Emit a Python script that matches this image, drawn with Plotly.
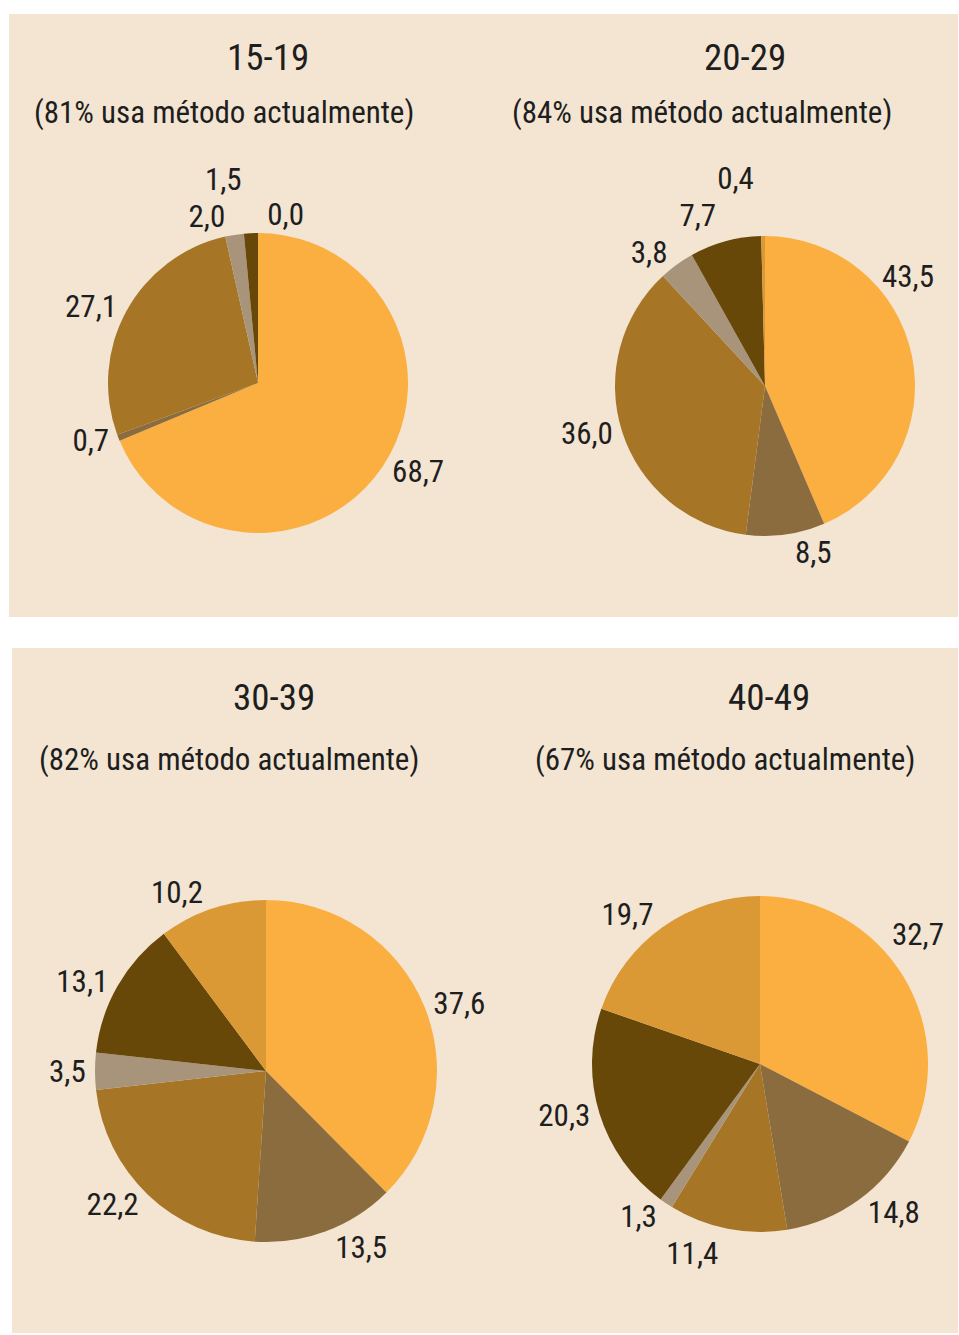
import plotly.graph_objects as go

W, H = 959, 1335

categorias = ["Método 1", "Método 2", "Método 3", "Método 4", "Método 5", "Método 6"]
colores = ["#FBAF41", "#8B6C3F", "#A67526", "#A8947A", "#674808", "#DB9935"]

grupos = ["15-19", "20-29", "30-39", "40-49"]
subtitulos = [
    "(81% usa método actualmente)",
    "(84% usa método actualmente)",
    "(82% usa método actualmente)",
    "(67% usa método actualmente)",
]
valores_15_19 = [68.7, 0.7, 27.1, 2.0, 1.5, 0.0]
valores_20_29 = [43.5, 8.5, 36.0, 3.8, 7.7, 0.4]
valores_30_39 = [37.6, 13.5, 22.2, 3.5, 13.1, 10.2]
valores_40_49 = [32.7, 14.8, 11.4, 1.3, 20.3, 19.7]
valores = [valores_15_19, valores_20_29, valores_30_39, valores_40_49]

# layout (pixels): pie centre and radius, title & subtitle positions
pie_geom = [(258, 383, 150), (765, 386, 150), (266, 1071, 171), (760, 1064, 168)]
title_pos = [(268, 57), (745, 57), (274, 697), (769, 697)]
sub_pos = [(224, 112), (702, 112), (229, 760), (725, 760)]
# labels that would fall off the right edge are placed as in the original: (pie, slice) -> (x, y)
label_manual = {(1, 0): (908, 276), (3, 0): (918, 934)}

FONT = "Roboto Condensed, Liberation Sans Narrow, sans-serif"
TXT = "#1e1e1e"


def fmt(v):
    return f"{v:.1f}".replace(".", ",")


fig = go.Figure()
annotations = []
for p, (vals, (cx, cy, r)) in enumerate(zip(valores, pie_geom)):
    templates = []
    for s, v in enumerate(vals):
        if (p, s) in label_manual:
            templates.append("")
            lx, ly = label_manual[(p, s)]
            annotations.append(dict(text=fmt(v), x=lx / W, y=1 - ly / H, xref="paper", yref="paper",
                                    showarrow=False, xanchor="center", yanchor="middle",
                                    font=dict(family=FONT, size=31, color=TXT)))
        else:
            templates.append("%{value:.1f}")
    fig.add_trace(go.Pie(
        labels=categorias,
        values=vals,
        sort=False,
        direction="clockwise",
        rotation=0,
        marker=dict(colors=colores, line=dict(width=0)),
        textposition="outside",
        texttemplate=templates,
        textfont=dict(family=FONT, size=31, color=TXT),
        showlegend=False,
        domain=dict(x=[(cx - r) / W, (cx + r) / W], y=[1 - (cy + r) / H, 1 - (cy - r) / H]),
    ))

shapes = [
    dict(type="rect", xref="paper", yref="paper", x0=9 / W, x1=958 / W, y0=1 - 617 / H, y1=1 - 14 / H,
         fillcolor="#F3E5D2", line=dict(width=0), layer="below"),
    dict(type="rect", xref="paper", yref="paper", x0=12 / W, x1=958 / W, y0=1 - 1333 / H, y1=1 - 648 / H,
         fillcolor="#F3E5D2", line=dict(width=0), layer="below"),
]

for g, s, (tx, ty), (sx, sy) in zip(grupos, subtitulos, title_pos, sub_pos):
    annotations.append(dict(text=g, x=tx / W, y=1 - ty / H, xref="paper", yref="paper",
                            showarrow=False, xanchor="center", yanchor="middle",
                            font=dict(family=FONT, size=37, color=TXT)))
    annotations.append(dict(text=s, x=sx / W, y=1 - sy / H, xref="paper", yref="paper",
                            showarrow=False, xanchor="center", yanchor="middle",
                            font=dict(family=FONT, size=31, color=TXT)))

fig.update_layout(
    width=W, height=H,
    autosize=False,
    margin=dict(l=0, r=0, t=0, b=0),
    paper_bgcolor="white",
    plot_bgcolor="white",
    separators=", ",
    shapes=shapes,
    annotations=annotations,
)

fig.write_html(
    "out.html",
    config={"displayModeBar": False, "responsive": False},
    post_script=(
        "document.documentElement.style.overflow='hidden';"
        "document.body.style.margin='0';document.body.style.overflow='hidden';"
        "var gd=document.getElementById('{plot_id}');if(gd){gd.style.overflow='hidden';}"
        "document.querySelectorAll('path.textline').forEach(function(e){e.style.display='none';});"
    ),
)
